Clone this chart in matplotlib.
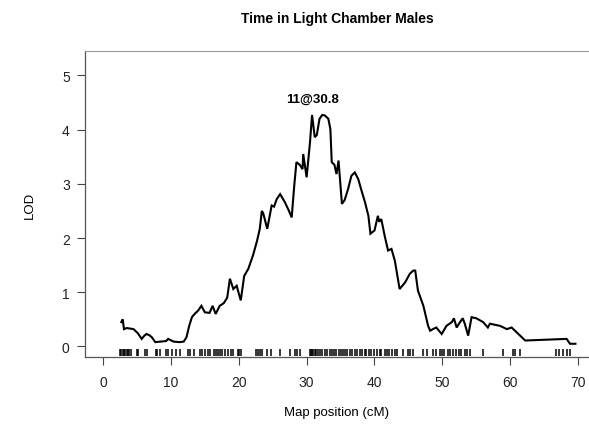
import matplotlib
matplotlib.use("Agg")
import matplotlib.pyplot as plt
import matplotlib.transforms as mtransforms

plt.rcParams['font.family'] = ['Liberation Sans', 'DejaVu Sans']

title = "Time in Light Chamber Males"
xlabel = "Map position (cM)"
ylabel = "LOD"

# LOD profile along the chromosome (cM, LOD)
pos_cm = [2.7, 2.9, 3.1, 3.5, 4.5, 5.1, 5.7, 6.1, 6.4, 6.8, 7.2, 7.7, 8.5, 9.3,
          9.6, 10.4, 11.3, 11.9, 12.3, 12.7, 13.1, 13.5, 14.0, 14.5, 15.0, 15.7,
          16.15, 16.6, 17.2, 17.8, 18.3, 18.7, 19.2, 19.7, 20.0, 20.3, 20.8,
          21.4, 22.1, 22.7, 23.1, 23.4, 23.6, 24.2, 24.85, 25.2, 25.6, 26.1,
          26.8, 27.4, 27.8, 28.2, 28.5, 29.0, 29.4, 29.5, 30.0, 30.5, 30.8,
          31.2, 31.5, 31.9, 32.3, 32.7, 33.2, 33.5, 33.7, 34.1, 34.4, 34.7,
          35.2, 35.6, 36.1, 36.6, 37.1, 37.6, 38.1, 38.6, 39.1, 39.4, 40.0,
          40.5, 40.7, 41.0, 41.5, 42.0, 42.5, 43.0, 43.7, 44.5, 45.2, 45.7,
          46.0, 46.4, 47.2, 47.9, 48.2, 48.6, 49.1, 49.9, 50.6, 51.4, 51.7,
          52.1, 52.6, 53.0, 53.3, 53.8, 54.3, 55.0, 56.0, 56.7, 57.0, 58.5,
          59.5, 60.2, 61.2, 62.2, 68.3, 68.8, 69.6]
lod = [0.45, 0.50, 0.32, 0.34, 0.32, 0.25, 0.14, 0.20, 0.23, 0.21, 0.17, 0.08,
       0.09, 0.10, 0.14, 0.09, 0.08, 0.09, 0.17, 0.38, 0.54, 0.60, 0.66, 0.75,
       0.63, 0.62, 0.75, 0.60, 0.75, 0.80, 0.90, 1.25, 1.06, 1.12, 0.98, 0.85,
       1.30, 1.43, 1.68, 1.95, 2.17, 2.50, 2.46, 2.17, 2.60, 2.58, 2.72, 2.81,
       2.66, 2.50, 2.38, 3.00, 3.40, 3.35, 3.27, 3.55, 3.12, 3.77, 4.27, 3.86,
       3.90, 4.20, 4.27, 4.26, 4.20, 4.01, 3.40, 3.35, 3.18, 3.43, 2.63, 2.70,
       2.90, 3.15, 3.21, 3.09, 2.87, 2.66, 2.41, 2.08, 2.14, 2.41, 2.30, 2.35,
       2.04, 1.77, 1.80, 1.58, 1.06, 1.18, 1.34, 1.40, 1.40, 1.03, 0.75, 0.38,
       0.29, 0.32, 0.35, 0.23, 0.38, 0.45, 0.52, 0.35, 0.45, 0.52, 0.42, 0.20,
       0.54, 0.52, 0.45, 0.35, 0.42, 0.38, 0.32, 0.35, 0.23, 0.11, 0.14, 0.05,
       0.05]

# Genotyped marker positions (cM)
markers_cm = [2.5, 2.7, 2.9, 3.1, 3.3, 3.5, 3.7, 3.9, 4.2, 5.0, 5.2, 6.2, 6.5,
              7.8, 8.0, 8.4, 9.3, 9.6, 10.1, 10.8, 11.4, 12.5, 12.8, 13.4,
              14.3, 14.6, 15.0, 15.4, 15.8, 16.3, 16.6, 17.0, 17.3, 17.6, 18.0,
              18.4, 18.8, 19.2, 19.9, 20.1, 20.4, 22.6, 22.9, 23.2, 23.5, 24.1,
              24.8, 26.1, 27.5, 28.3, 28.6, 29.0, 30.5, 30.7, 30.8, 31.0, 31.2,
              31.4, 31.7, 32.0, 32.3, 32.7, 33.0, 33.4, 33.7, 34.1, 34.4, 34.7,
              35.0, 35.4, 35.7, 36.0, 36.4, 36.7, 37.1, 37.4, 37.8, 38.1, 38.6,
              38.8, 39.2, 39.5, 40.0, 40.4, 40.8, 41.0, 41.5, 41.8, 42.2, 42.6,
              43.0, 43.3, 44.2, 44.9, 45.2, 45.7, 47.1, 47.7, 48.6, 49.1, 49.6,
              49.9, 50.3, 50.8, 51.1, 51.5, 52.0, 52.4, 52.8, 53.3, 53.7, 54.0,
              56.0, 59.0, 60.4, 60.7, 61.4, 66.8, 67.2, 67.8, 68.3, 68.8]

peak_chr = 11
peak_cm = 30.8
peak_lod = 4.27

x_ticks = [0, 10, 20, 30, 40, 50, 60, 70]
y_ticks = [0, 1, 2, 3, 4, 5]

fig = plt.figure(figsize=(5.89, 4.27), dpi=100)
ax = fig.add_axes([0.1443, 0.1616, 0.8557, 0.7166])

ax.plot(pos_cm, lod, color='black', lw=1.5, solid_joinstyle='miter')

# marker rug along the bottom of the panel
rug_tf = mtransforms.blended_transform_factory(ax.transData, ax.transAxes)
ax.vlines(markers_cm, 0.004, 0.026, transform=rug_tf, color='black', lw=1.1)

ax.text(peak_cm, peak_lod + 0.3, f"{peak_chr}@{peak_cm}", ha='center',
        va='center', fontsize=9.5, fontweight='bold')

ax.set_xlim(-2.65, 71.6)
ax.set_ylim(-0.194, 5.45)
ax.set_xticks(x_ticks)
ax.set_yticks(y_ticks)
ax.tick_params(axis='both', direction='out', length=6, width=0.8,
               color='#444444', labelsize=10, labelcolor='#222222')
ax.tick_params(axis='x', pad=7)
ax.tick_params(axis='y', pad=5)

for side in ['left', 'bottom']:
    ax.spines[side].set_color('#555555')
    ax.spines[side].set_linewidth(0.9)
ax.spines['top'].set_color('#999999')
ax.spines['top'].set_linewidth(0.8)
ax.spines['right'].set_visible(False)

ax.set_title(title, fontsize=10, fontweight='bold', pad=21)
ax.set_xlabel(xlabel, fontsize=9.5, labelpad=12)
ax.set_ylabel(ylabel, fontsize=9.5, labelpad=19)

fig.savefig("out.png", dpi=100, facecolor='white')
